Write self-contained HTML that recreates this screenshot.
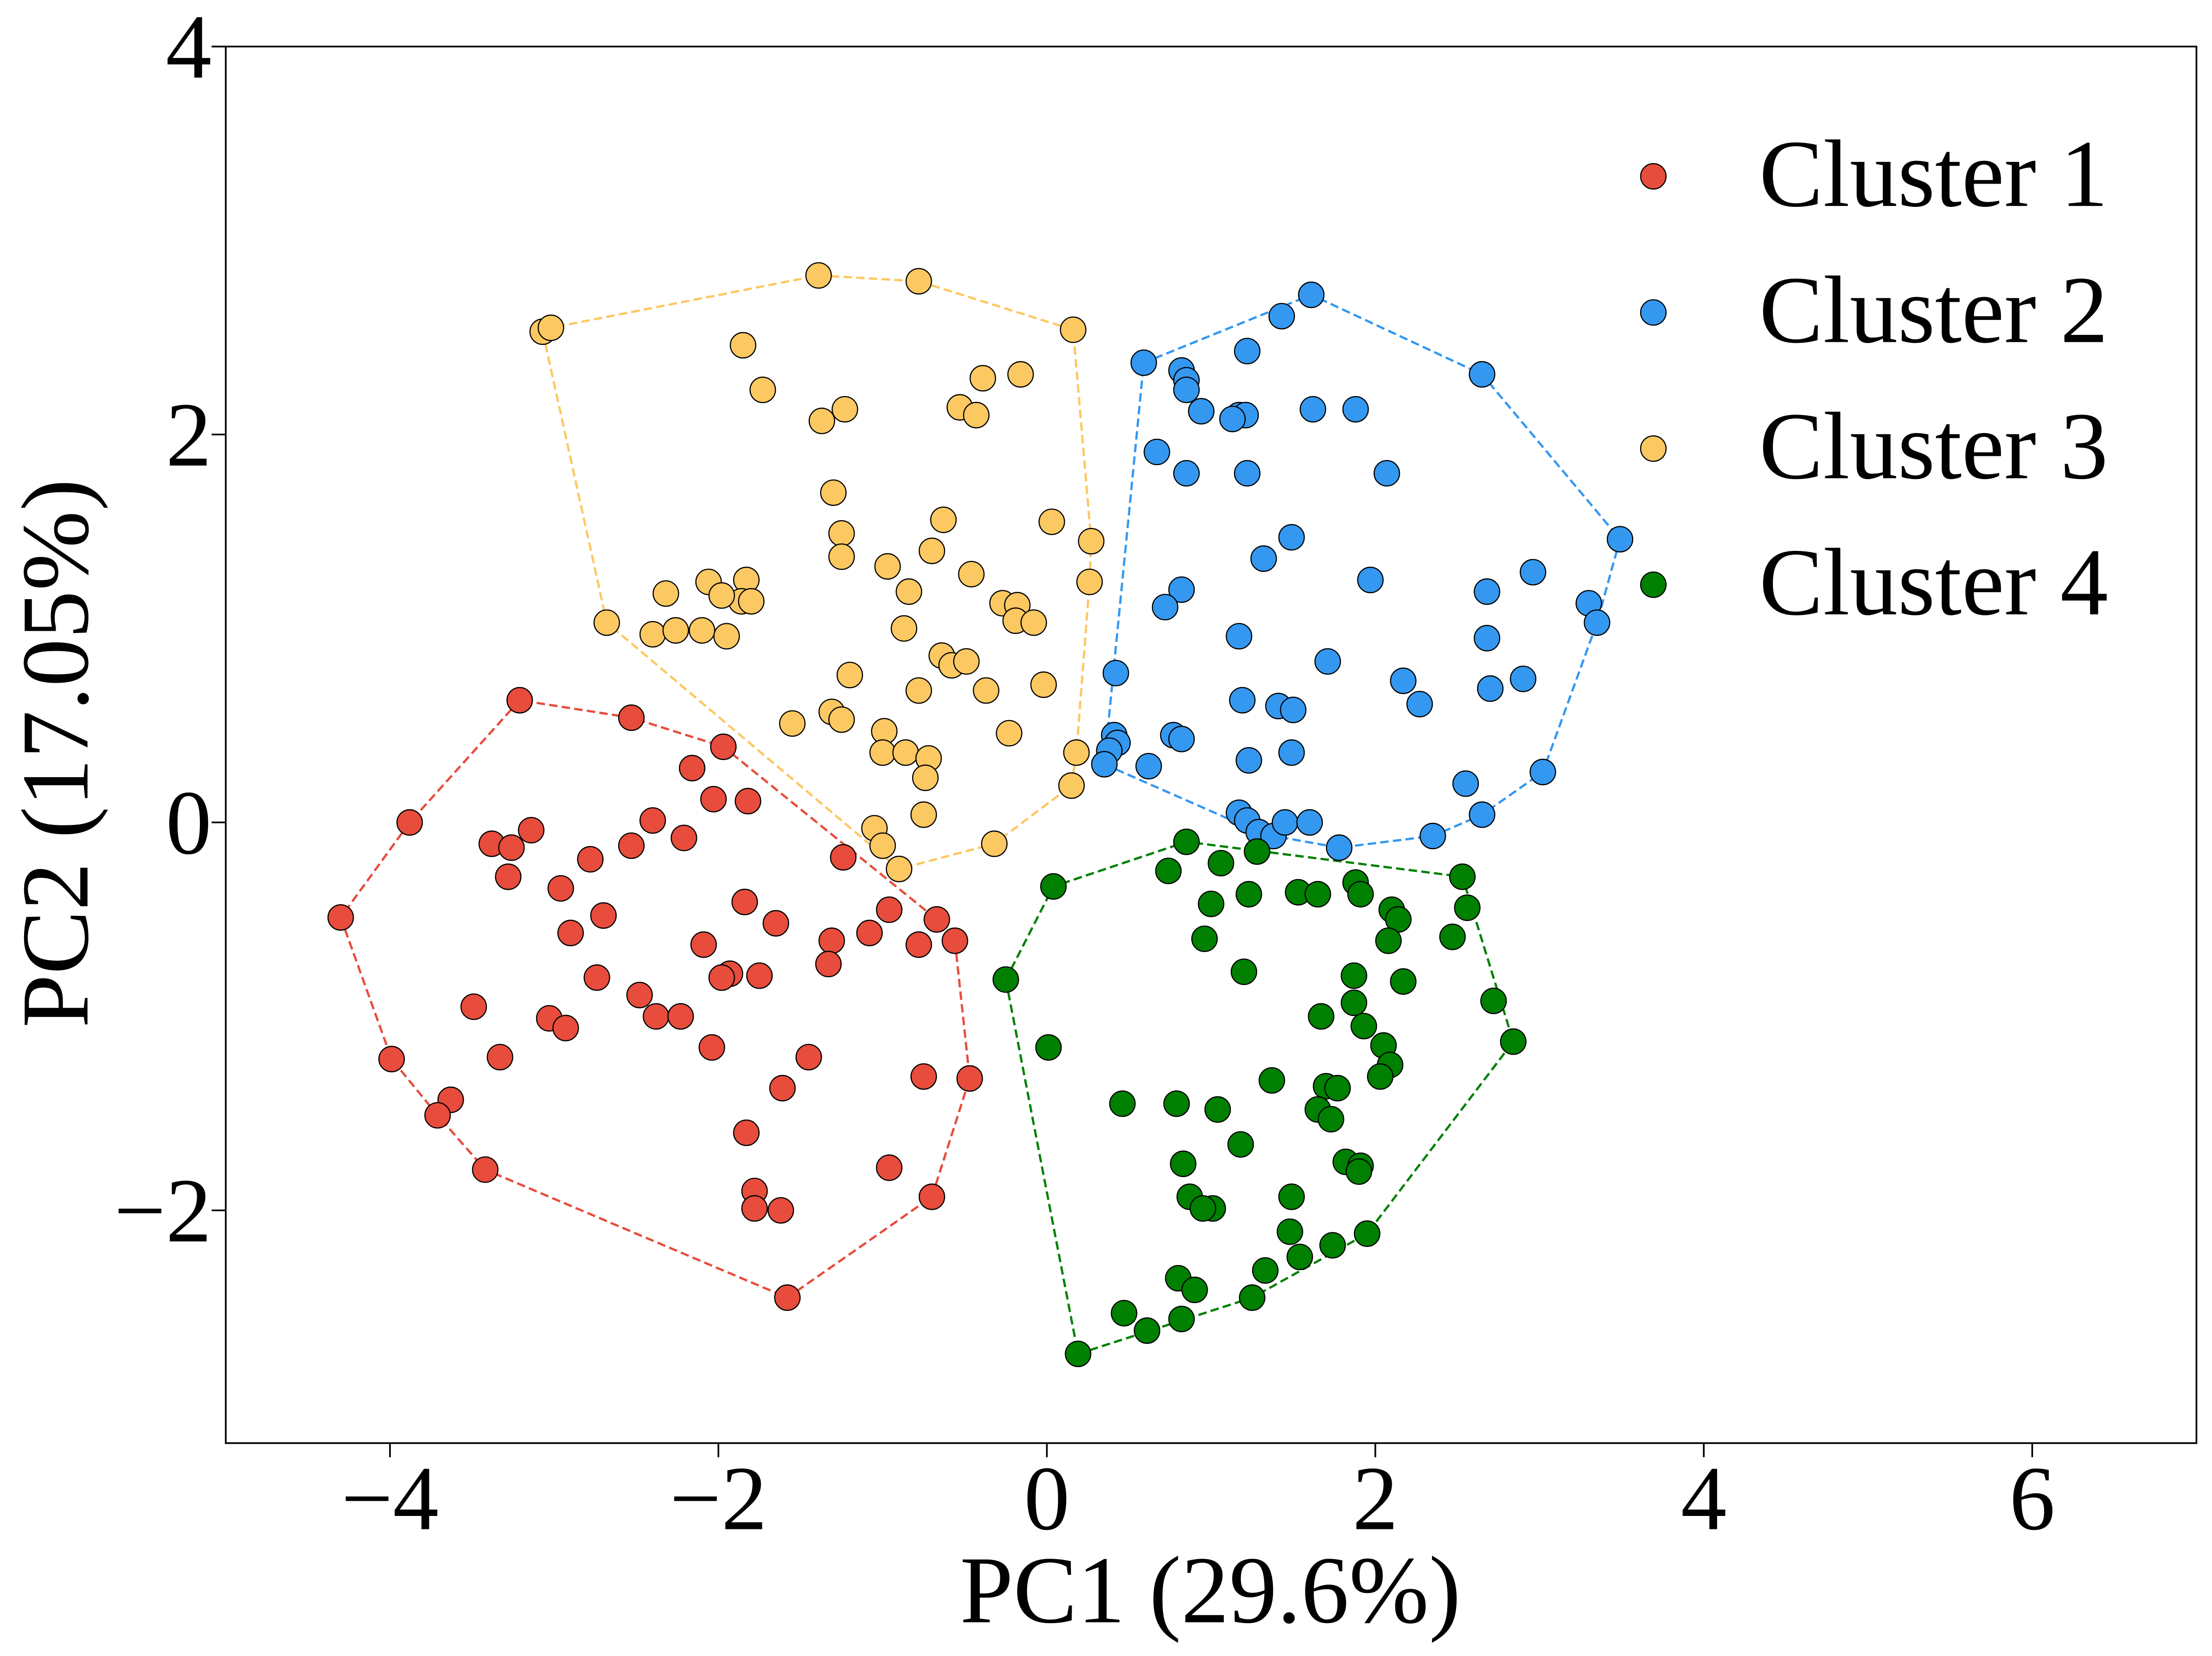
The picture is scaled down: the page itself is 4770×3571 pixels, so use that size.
<!DOCTYPE html>
<html><head><meta charset="utf-8"><style>
html,body{margin:0;padding:0;background:#fff;}
svg{display:block;font-family:"Liberation Serif",serif;}
</style></head><body>
<svg id="chart" width="4770" height="3571" viewBox="0 0 1568 1173.9" xmlns="http://www.w3.org/2000/svg">
<rect x="0" y="0" width="1568" height="1174" fill="#fff"/>
<g id="hulls"></g>
<g id="points"></g>
<rect x="160" y="33" width="1397" height="990" fill="none" stroke="#000" stroke-width="1.2"/>
<g id="xticks"></g>
<g id="yticks"></g>
<text x="858" y="1150" font-size="68" text-anchor="middle">PC1 (29.6%)</text>
<text x="0" y="0" font-size="68" text-anchor="middle" transform="translate(62,534) rotate(-90)">PC2 (17.05%)</text>
<g id="legend"></g>
</svg>
<script>
const xTicks=[-4,-2,0,2,4,6];
const yTicks=[-2,0,2,4];
const clusterNames=["Cluster 1","Cluster 2","Cluster 3","Cluster 4"];
const clusterColors=["#e74c3c","#3498f0","#fcc862","#008000"];
const c1x=[-3.21,-2.53,-1.97,-2.16,-2.03,-1.82,-3.88,-3.14,-3.38,-3.26,-2.40,-2.21,-2.53,-2.78,-1.24,-3.28,-2.96,-1.84,-0.96,-2.70,-1.65,-0.67,-2.09,-1.31,-1.08,-0.78,-0.56,-2.90,-4.30,-1.33,-1.93,-1.98,-1.75,-2.74,-2.48,-3.49,-2.38,-2.23,-3.03,-2.93,-2.04,-1.45,-3.33,-3.99,-0.75,-0.47,-1.61,-3.63,-3.71,-1.83,-3.42,-0.96,-1.78,-0.70,-1.78,-1.62,-1.58];
const c1y=[0.63,0.54,0.39,0.28,0.12,0.11,0,-0.04,-0.11,-0.13,0.01,-0.08,-0.12,-0.19,-0.18,-0.28,-0.34,-0.41,-0.45,-0.48,-0.52,-0.50,-0.63,-0.61,-0.57,-0.63,-0.61,-0.57,-0.49,-0.73,-0.78,-0.80,-0.79,-0.80,-0.89,-0.95,-1.00,-1.00,-1.01,-1.06,-1.16,-1.21,-1.21,-1.22,-1.31,-1.32,-1.37,-1.43,-1.51,-1.60,-1.79,-1.78,-1.90,-1.93,-1.99,-2.00,-2.45];
const c2x=[1.61,1.43,1.22,0.59,0.82,0.85,0.85,2.65,0.94,1.17,1.21,1.13,1.62,1.88,0.67,0.85,1.22,2.07,1.49,3.49,1.32,0.82,1.97,0.72,2.96,2.68,3.30,3.35,1.17,2.68,1.71,2.70,0.42,2.90,2.17,2.27,1.19,1.41,1.50,0.41,0.77,0.82,0.43,0.38,1.23,1.49,0.35,0.62,3.02,2.55,2.65,1.17,1.22,1.29,1.38,1.45,1.60,1.78,2.35];
const c2y=[2.72,2.61,2.43,2.37,2.33,2.28,2.23,2.31,2.12,2.10,2.10,2.08,2.13,2.13,1.91,1.80,1.80,1.80,1.47,1.46,1.36,1.20,1.25,1.11,1.29,1.19,1.13,1.03,0.96,0.95,0.83,0.69,0.77,0.74,0.73,0.61,0.63,0.60,0.58,0.45,0.45,0.43,0.41,0.37,0.32,0.36,0.30,0.29,0.26,0.20,0.04,0.05,0.01,-0.05,-0.07,0.00,0.00,-0.13,-0.07];
const c3x=[-1.39,-0.78,-3.07,-3.02,0.16,-1.85,-1.73,-0.39,-0.16,-0.53,-0.43,-1.37,-1.23,-1.30,-0.63,-1.25,-1.25,0.03,-0.70,0.27,-0.97,-0.46,0.26,-1.83,-2.32,-2.06,-1.86,-1.98,-1.80,-0.84,-0.27,-0.18,-0.19,-0.08,-2.68,-2.40,-2.26,-2.10,-1.95,-0.87,-0.64,-0.58,-0.49,-1.20,-0.78,-0.37,-0.02,-1.31,-1.25,-1.55,-0.99,-0.23,-1.00,-0.86,-0.72,0.18,-0.74,0.15,-0.75,-1.05,-0.32,-1.00,-0.90];
const c3y=[2.82,2.79,2.53,2.55,2.54,2.46,2.23,2.29,2.31,2.14,2.10,2.07,2.13,1.70,1.56,1.49,1.37,1.55,1.40,1.45,1.32,1.28,1.24,1.25,1.18,1.24,1.14,1.17,1.14,1.19,1.13,1.12,1.04,1.03,1.03,0.97,0.99,0.99,0.96,1.00,0.86,0.81,0.83,0.76,0.68,0.68,0.71,0.57,0.53,0.51,0.47,0.46,0.36,0.36,0.33,0.36,0.23,0.19,0.04,-0.03,-0.11,-0.12,-0.24];
const c4x=[0.85,1.28,1.06,0.74,0.04,1.53,1.23,1.00,1.65,1.88,1.91,2.10,2.53,2.56,2.14,0.96,2.08,2.47,1.20,1.87,2.17,-0.25,2.72,1.87,1.67,1.93,2.05,2.84,0.01,2.09,2.03,1.37,1.70,1.77,0.79,1.04,0.46,1.65,1.73,1.18,1.82,1.91,0.83,0.87,1.01,0.95,1.49,1.90,1.48,1.95,1.54,1.74,1.33,0.80,0.90,1.25,0.47,0.82,0.61,0.19];
const c4y=[-0.10,-0.15,-0.21,-0.25,-0.33,-0.36,-0.37,-0.42,-0.37,-0.31,-0.37,-0.45,-0.28,-0.44,-0.50,-0.60,-0.61,-0.59,-0.77,-0.79,-0.82,-0.81,-0.92,-0.93,-1.00,-1.05,-1.15,-1.13,-1.16,-1.25,-1.31,-1.33,-1.36,-1.37,-1.45,-1.48,-1.45,-1.48,-1.53,-1.66,-1.75,-1.77,-1.76,-1.93,-1.99,-1.99,-1.93,-1.80,-2.11,-2.12,-2.24,-2.18,-2.31,-2.35,-2.41,-2.45,-2.53,-2.56,-2.62,-2.74];

const NS="http://www.w3.org/2000/svg";
const X0=160,X1=1557,Y0=33,Y1=1023,xmin=-5,xmax=7,ymin=-3.2,ymax=4;
function sx(v){return X0+(v-xmin)/(xmax-xmin)*(X1-X0);}
function sy(v){return Y1-(v-ymin)/(ymax-ymin)*(Y1-Y0);}
function mk(tag,attrs,parent){const e=document.createElementNS(NS,tag);for(const k in attrs)e.setAttribute(k,attrs[k]);parent.appendChild(e);return e;}
function hull(px){const p=px.slice().sort((a,b)=>a[0]-b[0]||a[1]-b[1]);const cr=(o,a,b)=>(a[0]-o[0])*(b[1]-o[1])-(a[1]-o[1])*(b[0]-o[0]);const lo=[],up=[];for(const q of p){while(lo.length>=2&&cr(lo[lo.length-2],lo[lo.length-1],q)<=0)lo.pop();lo.push(q);}for(let i=p.length-1;i>=0;i--){const q=p[i];while(up.length>=2&&cr(up[up.length-2],up[up.length-1],q)<=0)up.pop();up.push(q);}lo.pop();up.pop();return lo.concat(up);}
const xs=[c1x,c2x,c3x,c4x],ys=[c1y,c2y,c3y,c4y];
const hg=document.getElementById('hulls'),pg=document.getElementById('points');
for(let c=0;c<4;c++){
  const pts=xs[c].map((v,i)=>[v,ys[c][i]]);
  const h=hull(pts);
  const poly=mk('polygon',{points:h.map(q=>sx(q[0])+','+sy(q[1])).join(' '),fill:'none',stroke:clusterColors[c],'stroke-width':1.6,'stroke-dasharray':'6,3'},hg);
  
  
}
for(let c=0;c<4;c++){
  for(let i=0;i<xs[c].length;i++){
    const e=mk('circle',{cx:sx(xs[c][i]),cy:sy(ys[c][i]),r:9,fill:clusterColors[c],stroke:'#000','stroke-width':0.8},pg);
    
    
  }
}
const xg=document.getElementById('xticks');
for(const t of xTicks){
  const l=mk('line',{x1:sx(t),x2:sx(t),y1:Y1,y2:Y1+10,stroke:'#000','stroke-width':1.2},xg);
  
  
  const tx=mk('text',{x:sx(t),y:1084,'font-size':65,'text-anchor':'middle'},xg);
  tx.textContent=(t<0?'\u2212'+(-t):String(t));
  
  
}
const yg=document.getElementById('yticks');
for(const t of yTicks){
  const l=mk('line',{x1:X0-10,x2:X0,y1:sy(t),y2:sy(t),stroke:'#000','stroke-width':1.2},yg);
  
  
  const tx=mk('text',{x:150,y:sy(t)+22,'font-size':65,'text-anchor':'end'},yg);
  tx.textContent=(t<0?'\u2212'+(-t):String(t));
  
  
}
const lg=document.getElementById('legend');
for(let c=0;c<4;c++){
  const y=125+c*96.5;
  const m=mk('circle',{cx:1172,cy:y,r:9,fill:clusterColors[c],stroke:'#000','stroke-width':0.8},lg);
  
  
  const tx=mk('text',{x:1247,y:y+21,'font-size':68},lg);
  tx.textContent=clusterNames[c];
  
  
}
</script>
</body></html>
